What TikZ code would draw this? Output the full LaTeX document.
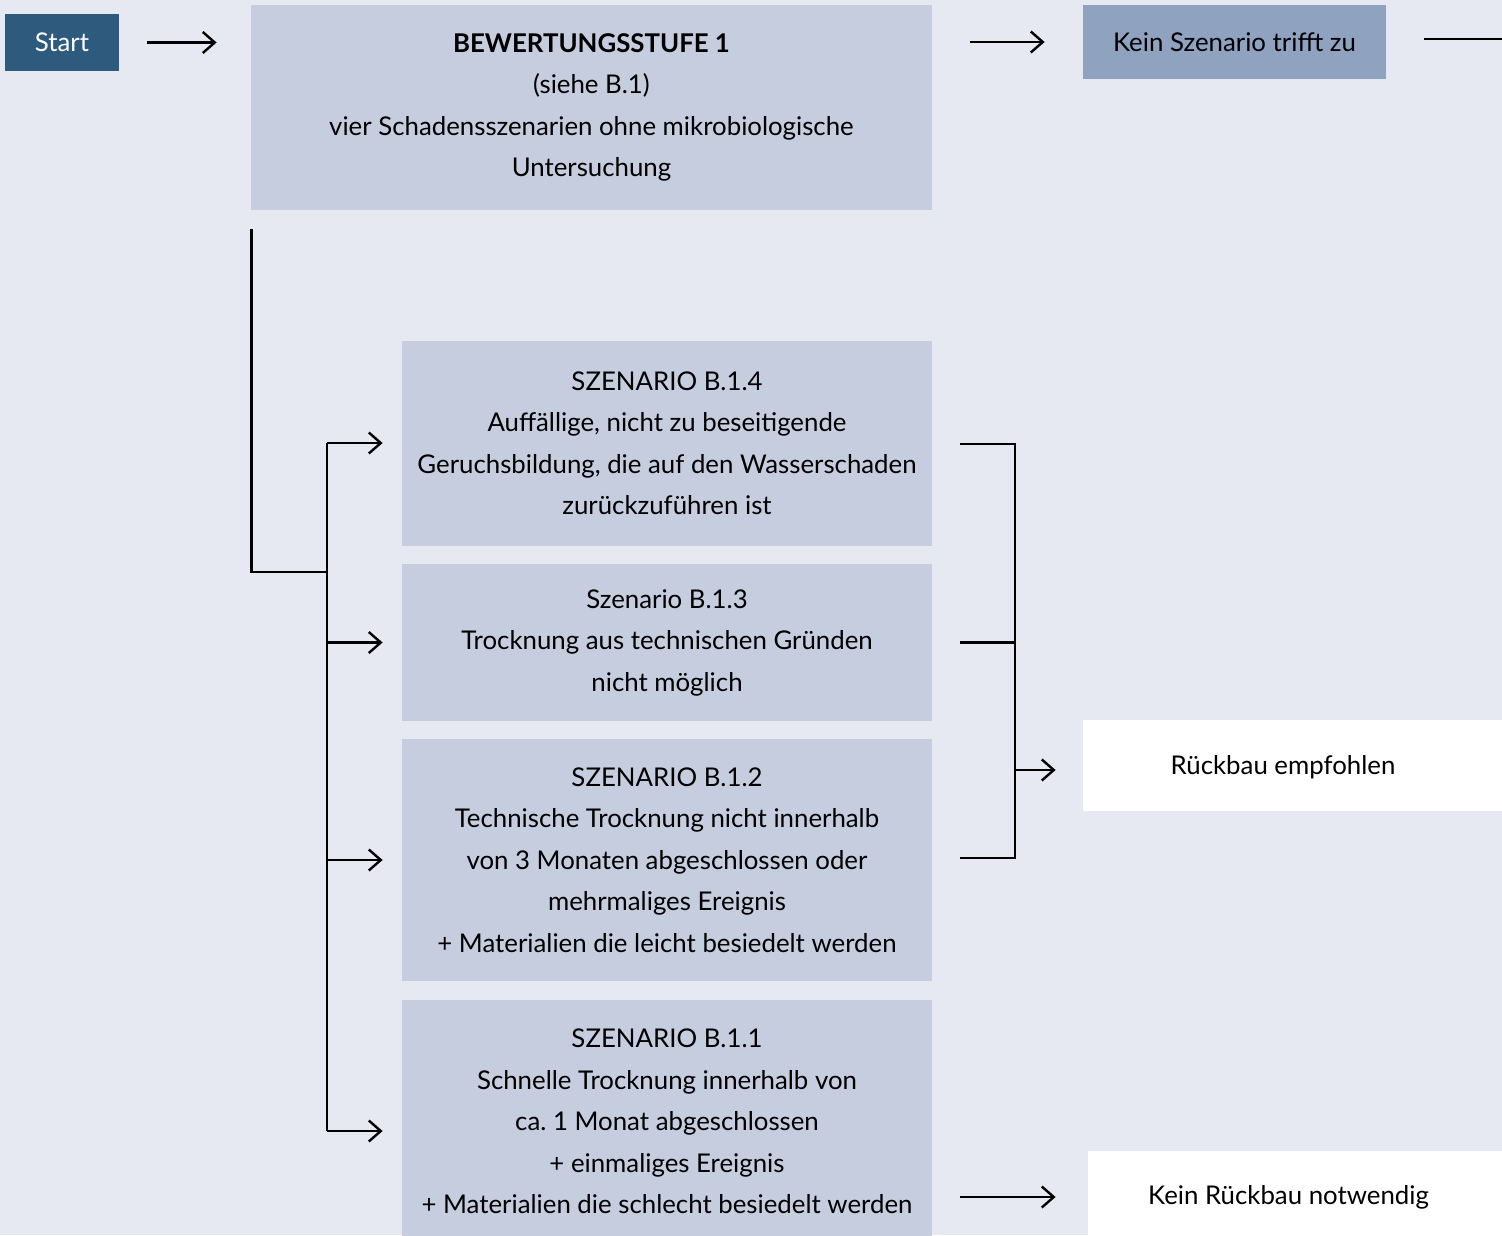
\documentclass[tikz,border=0pt]{standalone}
\usepackage{fontspec}
\setmainfont{Lato}
\usetikzlibrary{arrows.meta}
\definecolor{bg}{RGB}{230,233,242}
\definecolor{boxfill}{RGB}{197,205,223}
\definecolor{startfill}{RGB}{46,90,126}
\definecolor{noneFill}{RGB}{143,163,192}
\frenchspacing
\begin{document}
\begin{tikzpicture}[x=0.5pt,y=-0.5pt,
  every node/.style={font=\fontsize{12.9}{20.75}\selectfont, inner sep=0pt, align=center},
  box/.style={fill=boxfill, minimum width=265pt},
  line/.style={draw=black, line width=1.2pt},
  arr/.style={line, -{Straight Barb[length=6pt,width=10.5pt,line width=1.2pt]}}]
\fill[bg] (0,0) rectangle (1502,1235);
\useasboundingbox (0,0) rectangle (1502,1235);
\clip (0,0) rectangle (1502,1235);
% nodes
\node[fill=startfill, text=white, minimum width=57pt, minimum height=28.5pt] (start) at (62,42.5) {Start};
\node[fill=boxfill, minimum width=340.5pt, minimum height=102.5pt] (bew) at (591.5,107.5)
  {\textbf{BEWERTUNGSSTUFE 1}\\(siehe B.1)\\vier Schadensszenarien ohne mikrobiologische\\Untersuchung};
\node[fill=noneFill, minimum width=151.5pt, minimum height=37pt] (ksz) at (1234.5,42) {Kein Szenario trifft zu};
\node[box, minimum height=102.5pt] (b14) at (667,443.5)
  {SZENARIO B.1.4\\Auffällige, nicht zu beseitigende\\Geruchsbildung, die auf den Wasserschaden\\zurückzuführen ist};
\node[box, minimum height=78.5pt] (b13) at (667,642.5)
  {Szenario B.1.3\\Trocknung aus technischen Gründen\\nicht möglich};
\node[box, minimum height=121pt] (b12) at (667,860)
  {SZENARIO B.1.2\\Technische Trocknung nicht innerhalb\\von 3 Monaten abgeschlossen oder\\mehrmaliges Ereignis\\+ Materialien die leicht besiedelt werden};
\node[box, minimum height=121.5pt] (b11) at (667,1121.5)
  {SZENARIO B.1.1\\Schnelle Trocknung innerhalb von\\ca. 1 Monat abgeschlossen\\+ einmaliges Ereignis\\+ Materialien die schlecht besiedelt werden};
\node[fill=white, minimum width=209.5pt, minimum height=45.5pt] (rbbox) at (1292.5,765.5) {};
\node (rbtext) at (1283,767) {Rückbau empfohlen};
\node[fill=white, minimum width=207pt, minimum height=46pt] (krbbox) at (1295,1197) {};
\node (krbtext) at (1288.5,1197) {Kein Rückbau notwendig};
% coordinates
\coordinate (out1) at (1502,39);
\coordinate (split) at (327,572);
\coordinate (bt) at (327,443);
\coordinate (bb) at (327,1131);
\coordinate (rb1) at (1015,444);
\coordinate (rb3) at (1015,858);
\coordinate (rbm) at (1015,770);
% connectors
\draw[arr, shorten <=14pt, shorten >=17pt] (start.east) -- (start.east -| bew.west);
\draw[arr, shorten <=19pt, shorten >=19pt] (bew.east |- ksz.west) -- (ksz.west);
\draw[line] ([xshift=19pt,yshift=1.5pt]ksz.east) -- (out1);
\draw[line] ([xshift=0.5pt,yshift=-9.5pt]bew.south west) |- (split);
\draw[line] (bt) -- (bb);
\draw[arr, shorten >=9.5pt] (bt) -- (bt -| b14.west);
\draw[arr, shorten >=9.5pt] (b13.west -| bt) -- (b13.west);
\draw[arr, shorten >=9.5pt] (b12.west -| bt) -- (b12.west);
\draw[arr, shorten >=9.5pt] (bb) -- (bb -| b11.west);
\draw[line] ([xshift=14pt]b14.east |- rb1) -- (rb1) -- (rb3) -- ([xshift=14pt]b12.east |- rb3);
\draw[line] ([xshift=14pt]b13.east) -- (b13.east -| rb1);
\draw[arr, shorten >=13.5pt] (rbm) -- (rbm -| rbbox.west);
\draw[arr, shorten <=14pt, shorten >=16pt] (b11.east |- krbbox.west) -- (krbbox.west);
\end{tikzpicture}
\end{document}
